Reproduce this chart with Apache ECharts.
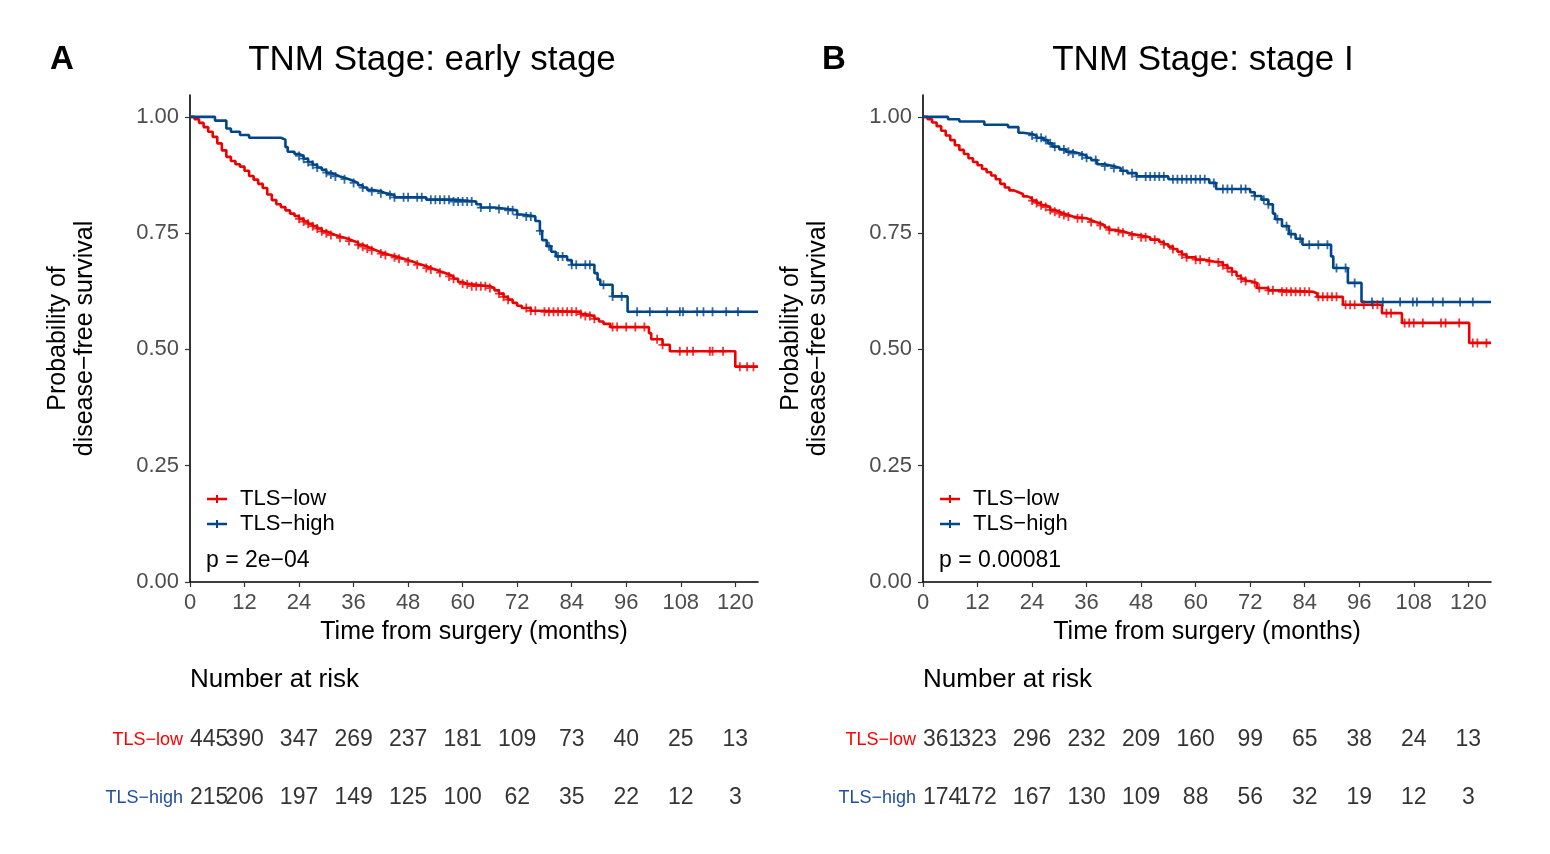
<!DOCTYPE html>
<html>
<head>
<meta charset="utf-8">
<script src="https://cdn.jsdelivr.net/npm/echarts@6/dist/echarts.min.js"></script>
<style>html,body{margin:0;padding:0;background:#fff;}#c{width:1550px;height:854px;}</style>
</head>
<body>
<div id="c"></div>
<script>
const FONT = 'Liberation Sans, Arial, Helvetica, sans-serif';
const groups = ['TLS\u2212low', 'TLS\u2212high'];
const timeTicks = [0, 12, 24, 36, 48, 60, 72, 84, 96, 108, 120];
const yTicks = [0, 0.25, 0.5, 0.75, 1];
const panelTitles = ['TNM Stage: early stage', 'TNM Stage: stage I'];
const panelLetters = ['A', 'B'];
const pValues = ['p = 2e\u221204', 'p = 0.00081'];

// Kaplan-Meier steps [time, survival]
const kmA_low = [[0,1],[1,0.995],[2,0.987],[3,0.978],[4,0.968],[5,0.957],[6,0.943],[7,0.928],[8,0.914],[9,0.905],[10,0.898],[11,0.893],[12,0.884],[13,0.873],[14,0.865],[15,0.856],[16,0.847],[17,0.833],[18,0.821],[19,0.812],[20,0.806],[21,0.799],[22,0.792],[23,0.787],[24,0.781],[25,0.775],[26,0.770],[27,0.765],[28,0.760],[29,0.754],[30,0.750],[31,0.746],[32,0.743],[33,0.740],[34,0.737],[35,0.733],[36,0.730],[37,0.725],[38,0.721],[39,0.717],[40,0.713],[41,0.709],[42,0.706],[43,0.703],[44,0.701],[45,0.698],[46,0.695],[47,0.692],[48,0.689],[49,0.685],[50,0.682],[51,0.679],[52,0.675],[53,0.672],[54,0.668],[55,0.665],[56,0.661],[57,0.657],[58,0.652],[59,0.645],[60,0.641],[61,0.640],[62,0.636],[66,0.632],[67,0.627],[68,0.620],[69,0.613],[70,0.607],[71,0.600],[72,0.594],[73,0.589],[75,0.583],[77,0.581],[86,0.576],[87,0.572],[89,0.566],[90,0.560],[91,0.555],[92.5,0.548],[101,0.535],[101.5,0.522],[104,0.510],[105.6,0.496],[120,0.463],[125,0.463]];
const kmA_high = [[0,1],[5.5,0.992],[8,0.975],[9,0.968],[11,0.961],[13,0.955],[20,0.951],[21,0.935],[21.5,0.925],[23,0.920],[24,0.916],[25,0.910],[26,0.903],[27,0.897],[28,0.891],[29,0.886],[30,0.880],[31,0.876],[32,0.872],[33,0.869],[34,0.866],[35,0.862],[36,0.858],[37,0.853],[38,0.848],[39,0.843],[40,0.840],[42,0.836],[43,0.832],[45,0.827],[52,0.822],[58,0.818],[63,0.812],[64,0.805],[67,0.802],[70,0.799],[72,0.790],[73,0.786],[76,0.776],[77,0.755],[77.5,0.735],[78.5,0.722],[79.5,0.710],[80.5,0.700],[83,0.692],[84,0.682],[89,0.664],[89.7,0.650],[90.3,0.639],[93,0.614],[96.3,0.581],[125,0.581]];
const kmB_low = [[0,1],[1,0.995],[2,0.988],[3,0.980],[4,0.970],[5,0.960],[6,0.950],[7,0.939],[8,0.929],[9,0.920],[10,0.911],[11,0.903],[12,0.896],[13,0.888],[14,0.881],[15,0.874],[16,0.866],[17,0.856],[18,0.848],[19,0.842],[20,0.838],[21,0.834],[22,0.829],[23,0.825],[24,0.820],[25,0.815],[26,0.810],[27,0.806],[28,0.800],[29,0.796],[30,0.792],[31,0.789],[32,0.786],[33,0.784],[34,0.782],[36,0.778],[37,0.774],[38,0.771],[39,0.767],[40,0.762],[41,0.757],[42,0.754],[44,0.751],[45,0.748],[46,0.745],[48,0.741],[50,0.736],[52,0.731],[53,0.726],[54,0.721],[55,0.716],[56,0.710],[57,0.704],[58,0.698],[60,0.693],[62,0.689],[64,0.687],[66,0.681],[67,0.675],[68,0.667],[69,0.658],[70,0.652],[71,0.647],[72,0.643],[73.5,0.632],[76,0.627],[78.5,0.624],[85.8,0.621],[86.7,0.613],[92.4,0.596],[101,0.578],[105.4,0.557],[120.2,0.514],[125,0.514]];
const kmB_high = [[0,1],[5.5,0.995],[8,0.990],[13.5,0.983],[18.7,0.978],[21,0.966],[22,0.963],[24,0.960],[25,0.955],[26.5,0.950],[27.5,0.943],[28.5,0.936],[30,0.930],[31.5,0.925],[33,0.921],[34.5,0.917],[36,0.912],[37,0.907],[38.3,0.898],[40,0.894],[42,0.890],[43.5,0.884],[45,0.879],[47,0.872],[54,0.866],[63,0.858],[64.5,0.845],[72,0.838],[73,0.830],[74.5,0.822],[76,0.812],[77,0.792],[77.5,0.780],[79,0.765],[80.5,0.748],[82,0.738],[83.5,0.725],[89.8,0.700],[90.3,0.675],[93.5,0.643],[96.5,0.602],[125,0.602]];

// censoring times (months)
const censA_low = [24,25,26,27,28,29,30,31,33,35,37,38,39,40,42,43,45,46,48,50,52,53,55,57,58,60,61,62,63,64,65,66,68,69,70,74,75,76,78,79,80,81,82,83,84,85,86,87,88,89,93,94,96,98,100,102.8,104,107.8,109.4,110.7,114.4,115,117.3,121,122.6,124];
const censA_high = [24,25,26,27,28,30,31,32,34,36,38,40,42,44,45,47,48,50,51,53,54,55,56,57,58,59,60,61,62,64,66,68,70,71,72,74,75,77,79,81,82,84,85,87,88,91,93,95,98.4,101.2,105,107.8,108.5,111.6,113,115,118,120.6];
const censB_low = [24,25,26,27,28,29,30,31,32,34,35,37,39,41,43,44,46,48,49,51,53,55,57,58,60,61,63,65,66,67,68,70,71,73,74,76,77,79,80,81,82,83,84,85,87,88,89,90,91,93,94,95,97,99,100,102,103,106,107,108,110,114,115,118,121,122,124];
const censB_high = [24,25,26,27,28,29,31,32,33,35,36,38,40,42,44,46,47,49,50,51,52,53,55,56,57,58,59,60,61,62,64,66,67,68,70,71,73,75,76,78,80,81,83,85,87,89,91,93,95,98.8,101.2,105,107.8,108.7,112.2,114.4,118.2,121];

// numbers at risk at timeTicks
const riskA_low = [445,390,347,269,237,181,109,73,40,25,13];
const riskA_high = [215,206,197,149,125,100,62,35,22,12,3];
const riskB_low = [361,323,296,232,209,160,99,65,38,24,13];
const riskB_high = [174,172,167,130,109,88,56,32,19,12,3];

const RED = '#ED0000', BLUE = '#00468B';
const PLUS = 'path://M-4,-0.9 H4 V0.9 H-4 Z M-0.9,-4.5 H0.9 V4.5 H-0.9 Z';
const LEGICON = 'path://M0,4.8 H20 V7.2 H0 Z M9,2 H11 V10 H9 Z M28,0 L28.01,0 L28.01,12 L28,12 Z';

function survAt(km, t) {
  let s = km[0][1];
  for (const p of km) { if (p[0] <= t) s = p[1]; else break; }
  return s;
}

const panels = [
  {left: 190, km: [kmA_low, kmA_high], cens: [censA_low, censA_high], risk: [riskA_low, riskA_high]},
  {left: 923, km: [kmB_low, kmB_high], cens: [censB_low, censB_high], risk: [riskB_low, riskB_high]}
];
const PW = 568;

const grid = [], xAxis = [], yAxis = [], series = [], legend = [], graphic = [];
panels.forEach((p, i) => {
  grid.push({left: p.left, top: 95, width: PW, height: 487, containLabel: false});
  xAxis.push({
    type: 'value', gridIndex: i, min: 0, max: 125,
    name: 'Time from surgery (months)', nameLocation: 'middle', nameGap: 38,
    nameTextStyle: {fontSize: 25, color: '#000', fontFamily: FONT},
    axisLine: {show: true, onZero: false, lineStyle: {color: '#000', width: 1.6}},
    axisTick: {show: true, length: 5, customValues: timeTicks, lineStyle: {color: '#333', width: 1.2}},
    axisLabel: {customValues: timeTicks, fontSize: 22, color: '#4D4D4D', margin: 10, fontFamily: FONT},
    splitLine: {show: false}
  });
  yAxis.push({
    type: 'value', gridIndex: i, min: 0, max: 1.047,
    name: 'Probability of\ndisease\u2212free survival', nameLocation: 'middle', nameGap: 91, nameRotate: 90,
    nameTextStyle: {fontSize: 25, lineHeight: 27, color: '#000', fontFamily: FONT, align: 'center'},
    axisLine: {show: true, onZero: false, lineStyle: {color: '#000', width: 1.6}},
    axisTick: {show: true, length: 5, customValues: yTicks, lineStyle: {color: '#333', width: 1.2}},
    axisLabel: {customValues: yTicks, fontSize: 22, color: '#4D4D4D', margin: 11, fontFamily: FONT,
      formatter: v => Number(v).toFixed(2)},
    splitLine: {show: false}
  });
  [0, 1].forEach(g => {
    const col = g === 0 ? RED : BLUE;
    series.push({
      name: groups[g], type: 'line', step: 'end', xAxisIndex: i, yAxisIndex: i,
      data: p.km[g], symbol: 'none', showSymbol: false, color: col,
      lineStyle: {color: col, width: 2.6}, z: 2, animation: false
    });
    series.push({
      name: groups[g], type: 'scatter', xAxisIndex: i, yAxisIndex: i,
      data: p.cens[g].map(t => [t, survAt(p.km[g], t)]),
      symbol: PLUS, symbolSize: [8, 9], itemStyle: {color: col}, z: 3, animation: false, silent: true
    });
  });
  legend.push({
    data: groups.map(n => ({name: n, icon: LEGICON})), orient: 'vertical', padding: 0,
    left: p.left + 17, top: 488, itemWidth: 28, itemHeight: 12, itemGap: 3,
    textStyle: {fontSize: 22, color: '#000', fontFamily: FONT}, selectedMode: false
  });
  graphic.push(
    {type: 'text', x: p.left + 16, y: 561, style: {text: pValues[i], font: '23px ' + FONT, fill: '#000', textAlign: 'left', textVerticalAlign: 'middle', align: 'left', verticalAlign: 'middle'}},
    {type: 'text', x: i === 0 ? 432 : 1203, y: 60, style: {text: panelTitles[i], font: '35px ' + FONT, fill: '#000', textAlign: 'center', textVerticalAlign: 'middle', align: 'center', verticalAlign: 'middle'}},
    {type: 'text', x: i === 0 ? 62 : 834, y: 60, style: {text: panelLetters[i], font: 'bold 33px ' + FONT, fill: '#000', textAlign: 'center', textVerticalAlign: 'middle', align: 'center', verticalAlign: 'middle'}},
    {type: 'text', x: p.left, y: 680, style: {text: 'Number at risk', font: '26px ' + FONT, fill: '#000', textAlign: 'left', textVerticalAlign: 'middle', align: 'left', verticalAlign: 'middle'}}
  );
});

// risk tables
panels.forEach((p, i) => {
  const gi = 2 + i;
  grid.push({left: p.left, top: 711, width: PW, height: 116});
  xAxis.push({type: 'value', gridIndex: gi, min: 0, max: 125, show: false});
  yAxis.push({
    type: 'category', gridIndex: gi, data: groups, inverse: true,
    axisLine: {show: false}, axisTick: {show: false}, splitLine: {show: false},
    axisLabel: {margin: 7, fontFamily: FONT,
      formatter: v => (v === groups[0] ? '{low|' : '{high|') + v + '}',
      rich: {low: {color: '#FF0000', fontSize: 18, fontFamily: FONT}, high: {color: '#1F4E9A', fontSize: 18, fontFamily: FONT}}}
  });
  [0, 1].forEach(g => {
    series.push({
      name: 'risk' + i + g, type: 'scatter', xAxisIndex: gi, yAxisIndex: gi,
      symbolSize: 1, itemStyle: {color: 'rgba(0,0,0,0)'}, silent: true, animation: false,
      label: {show: true, position: 'inside', fontSize: 23, color: '#000', fontFamily: FONT,
        formatter: q => String(q.value[2])},
      data: p.risk[g].map((n, k) => {
        const d = {value: [timeTicks[k], g, n]};
        if (k === 0) d.label = {align: 'left'};
        return d;
      })
    });
  });
});

const chart = echarts.init(document.getElementById('c'), null, {renderer: 'canvas'});
chart.setOption({
  animation: false,
  backgroundColor: '#fff',
  textStyle: {fontFamily: FONT},
  grid, xAxis, yAxis, series, legend, graphic
});
</script>
</body>
</html>
